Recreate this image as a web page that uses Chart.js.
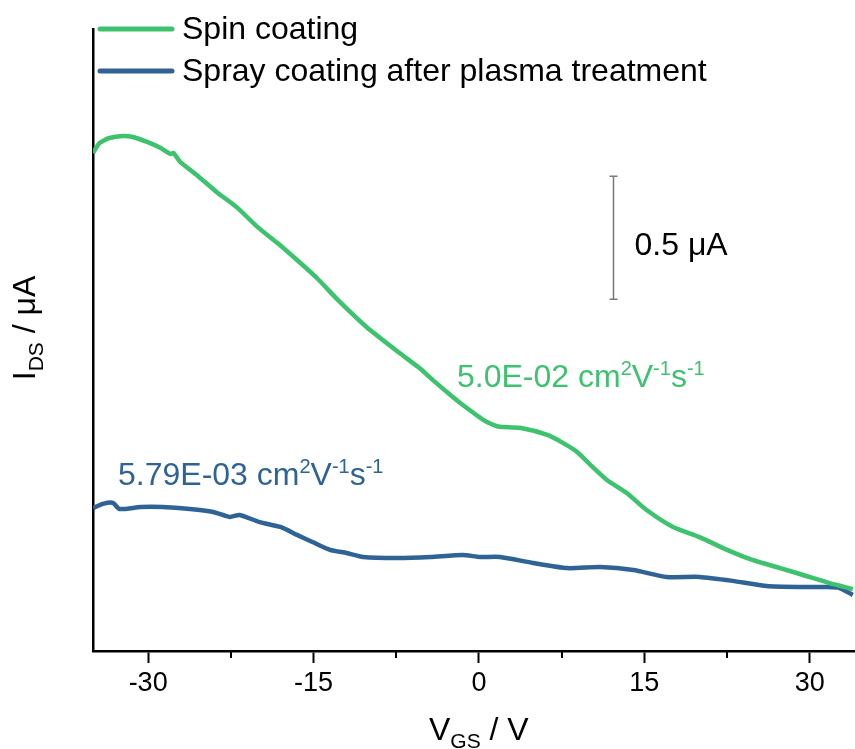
<!DOCTYPE html>
<html>
<head>
<meta charset="utf-8">
<script src="https://cdn.jsdelivr.net/npm/chart.js@4/dist/chart.umd.min.js"></script>
<style>
  body { margin: 0; background: #fff; }
  #wrap { width: 855px; height: 749px; }
</style>
</head>
<body>
<div id="wrap"><canvas id="transfer" width="855" height="749"></canvas></div>
<script>
// gate sweep, V
const vgsSpin = [-35.0, -34.4, -33.5, -32.3, -31.4, -30.1, -28.9, -28.0, -27.7, -27.1, -25.6, -23.8,
  -21.9, -20.1, -18.3, -16.5, -14.7, -12.8, -10.2, -7.2, -5.4, -4.2, -2.4, -1.7, 0.4, 1.3, 1.9,
  3.7, 6.2, 7.6, 8.9, 10.3, 11.6, 13.4, 15.2, 17.6, 20.0, 22.5, 24.8, 27.3, 29.4, 31.8, 33.9];
// drain current, uA (offset, only differences matter)
const idsSpin = [2.024, 2.065, 2.085, 2.093, 2.089, 2.069, 2.045, 2.020, 2.024, 1.988, 1.935, 1.866,
  1.801, 1.724, 1.659, 1.589, 1.516, 1.427, 1.317, 1.211, 1.150, 1.102, 1.033, 1.008, 0.939, 0.919, 0.911,
  0.907, 0.878, 0.846, 0.809, 0.748, 0.695, 0.642, 0.573, 0.504, 0.463, 0.411, 0.370, 0.337, 0.309, 0.276, 0.252];

const vgsSpray = [-35.0, -34.1, -33.2, -32.6, -30.7, -28.7, -26.2, -24.1, -22.6, -21.7, -19.9, -18.0,
  -16.5, -15.1, -13.5, -12.0, -10.5, -7.4, -4.4, -1.5, 0.1, 1.9, 4.9, 8.0, 11.0, 14.0, 17.0, 20.0,
  23.0, 26.1, 29.1, 31.6, 32.7, 33.9];
const idsSpray = [0.581, 0.598, 0.602, 0.577, 0.585, 0.585, 0.577, 0.565, 0.545, 0.553, 0.524, 0.504,
  0.472, 0.443, 0.411, 0.398, 0.382, 0.378, 0.382, 0.390, 0.382, 0.382, 0.358, 0.337, 0.341, 0.329, 0.301, 0.301,
  0.285, 0.264, 0.260, 0.260, 0.256, 0.228];

const seriesNames = ['Spin coating', 'Spray coating after plasma treatment'];
const majorTicks = [-30, -15, 0, 15, 30];
const minorTicks = [-22.5, -7.5, 7.5, 22.5];
const scaleBar = { x: 12.2, y0: 1.43, size: 0.5, label: '0.5 \u03bcA' };

const GREEN = '#3dc26e';
const BLUE = '#2f6396';
const FONT = '"Liberation Sans", Arial, sans-serif';

function toPoints(xs, ys) {
  return xs.map((x, i) => ({ x: x, y: ys[i] }));
}

// draw text pieces: [text, 'n' | 'sup' | 'sub']
function richText(ctx, x, y, parts, size, color) {
  ctx.fillStyle = color;
  ctx.textBaseline = 'alphabetic';
  ctx.textAlign = 'left';
  let cx = x;
  parts.forEach(p => {
    let s = size, dy = 0;
    if (p[1] === 'sup') { s = Math.round(size * 0.62); dy = -12; }
    if (p[1] === 'sub') { s = Math.round(size * 0.66); dy = 8; }
    ctx.font = s + 'px ' + FONT;
    ctx.fillText(p[0], cx, y + dy);
    cx += ctx.measureText(p[0]).width;
  });
}

function richWidth(ctx, parts, size) {
  let w = 0;
  parts.forEach(p => {
    let s = size;
    if (p[1] === 'sup') s = Math.round(size * 0.62);
    if (p[1] === 'sub') s = Math.round(size * 0.66);
    ctx.font = s + 'px ' + FONT;
    w += ctx.measureText(p[0]).width;
  });
  return w;
}

const decorations = {
  id: 'decorations',
  afterDraw(chart) {
    const ctx = chart.ctx;
    const xs = chart.scales.x, ys = chart.scales.y;
    const bottom = chart.chartArea.bottom;
    ctx.save();

    // minor ticks on the V axis
    ctx.strokeStyle = '#000';
    ctx.lineWidth = 2;
    minorTicks.forEach(v => {
      const px = Math.round(xs.getPixelForValue(v));
      ctx.beginPath();
      ctx.moveTo(px, bottom);
      ctx.lineTo(px, bottom + 7);
      ctx.stroke();
    });

    // legend
    chart.data.datasets.forEach((ds, i) => {
      const ly = 29 + i * 42;
      ctx.strokeStyle = ds.borderColor;
      ctx.lineWidth = 5;
      ctx.lineCap = 'round';
      ctx.beginPath();
      ctx.moveTo(100, ly);
      ctx.lineTo(172, ly);
      ctx.stroke();
      richText(ctx, 182, ly + 10, [[ds.label, 'n']], 32, '#000');
    });

    // scale bar
    const bx = Math.round(xs.getPixelForValue(scaleBar.x)) + 0.5;
    const by0 = ys.getPixelForValue(scaleBar.y0);
    const by1 = ys.getPixelForValue(scaleBar.y0 + scaleBar.size);
    ctx.strokeStyle = '#7a7a7a';
    ctx.lineWidth = 1.5;
    ctx.lineCap = 'butt';
    ctx.beginPath();
    ctx.moveTo(bx, by0); ctx.lineTo(bx, by1);
    ctx.moveTo(bx - 4, by0); ctx.lineTo(bx + 4, by0);
    ctx.moveTo(bx - 4, by1); ctx.lineTo(bx + 4, by1);
    ctx.stroke();
    richText(ctx, bx + 21, (by0 + by1) / 2 + 17, [[scaleBar.label, 'n']], 32, '#000');

    // mobility labels
    richText(ctx, 457, 387, [['5.0E-02 cm', 'n'], ['2', 'sup'], ['V', 'n'], ['-1', 'sup'], ['s', 'n'], ['-1', 'sup']], 32, GREEN);
    richText(ctx, 118, 485, [['5.79E-03 cm', 'n'], ['2', 'sup'], ['V', 'n'], ['-1', 'sup'], ['s', 'n'], ['-1', 'sup']], 32, BLUE);

    // axis titles
    richText(ctx, 429, 740, [['V', 'n'], ['GS', 'sub'], [' / V', 'n']], 32, '#000');
    const yParts = [['I', 'n'], ['DS', 'sub'], [' / \u03bcA', 'n']];
    const w = richWidth(ctx, yParts, 32);
    ctx.translate(35, 328);
    ctx.rotate(-Math.PI / 2);
    richText(ctx, -w / 2, 0, yParts, 32, '#000');
    ctx.restore();
  }
};

new Chart(document.getElementById('transfer'), {
  type: 'line',
  data: {
    datasets: [
      {
        label: seriesNames[0],
        data: toPoints(vgsSpin, idsSpin),
        borderColor: GREEN,
        borderWidth: 4.5,
        pointRadius: 0,
        tension: 0.2
      },
      {
        label: seriesNames[1],
        data: toPoints(vgsSpray, idsSpray),
        borderColor: BLUE,
        borderWidth: 4.5,
        pointRadius: 0,
        tension: 0.2
      }
    ]
  },
  options: {
    responsive: false,
    animation: false,
    layout: { padding: { top: 29, left: 0, right: 0, bottom: 0 } },
    plugins: { legend: { display: false }, tooltip: { enabled: false } },
    scales: {
      x: {
        type: 'linear',
        min: -35,
        max: 34.1,
        afterBuildTicks: scale => { scale.ticks = majorTicks.map(v => ({ value: v })); },
        afterFit: scale => { scale.height = 98; },
        grid: { display: true, drawOnChartArea: false, drawTicks: true, tickLength: 12, tickWidth: 2, tickColor: '#000' },
        border: { display: true, color: '#000', width: 2.5 },
        ticks: { color: '#000', font: { family: FONT, size: 27 }, padding: 4, maxRotation: 0 }
      },
      y: {
        type: 'linear',
        min: 0,
        max: 2.528,
        afterFit: scale => { scale.width = 93; },
        grid: { display: false },
        border: { display: true, color: '#000', width: 2.5 },
        ticks: { display: false }
      }
    }
  },
  plugins: [decorations]
});
</script>
</body>
</html>
